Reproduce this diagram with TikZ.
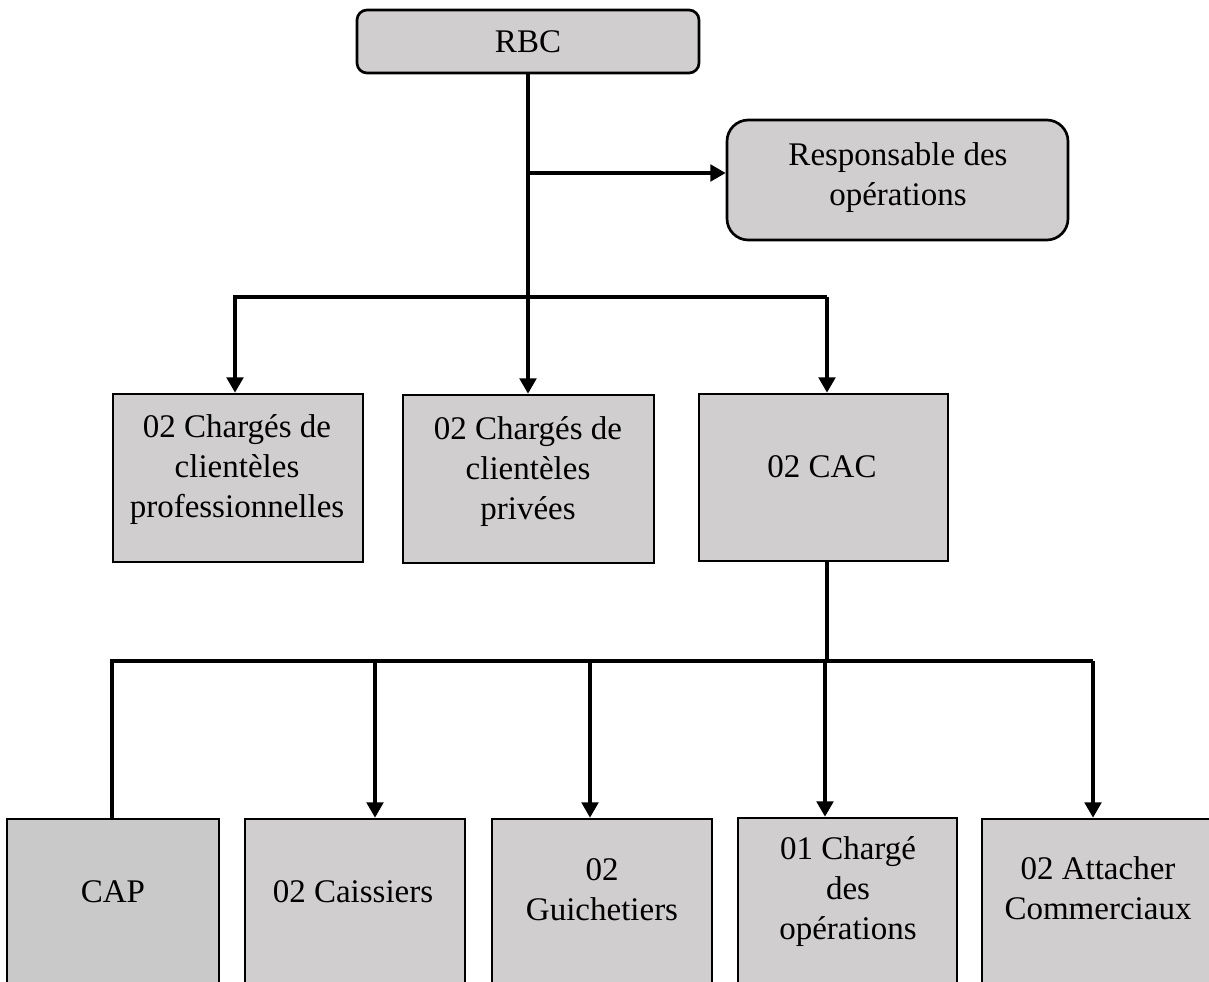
\documentclass[tikz,border=0pt]{standalone}
\usepackage{fontspec}
\setmainfont{Liberation Serif}
\usetikzlibrary{arrows.meta}
\definecolor{boxgray}{HTML}{D0CECE}
\definecolor{capgray}{HTML}{C9C9C9}
\tikzset{
  sz/.style 2 args={minimum width=#1*0.75pt, minimum height=#2*0.75pt},
  box/.style={draw=black, line width=2pt, fill=boxgray, inner sep=0pt, rectangle},
  rbox/.style={box, rounded corners=#1},
  txt/.style={anchor=base, inner sep=0pt, font=\fontsize{24.75}{30}\selectfont},
  conn/.style={line width=2.4pt, draw=black},
  arr/.style={conn, -{Triangle[width=12.5pt,length=11.5pt]}}
}
\newcommand{\ml}[1]{\begin{tabular}[t]{@{}c@{}}#1\end{tabular}}
\begin{document}
\begin{tikzpicture}[x=0.75pt,y=-0.75pt]
\useasboundingbox (0,0) rectangle (1209,981);
\clip (0,0) rectangle (1209,981);
% boxes
\node[rbox=7.5pt, sz={342}{63}] (rbc) at (528,41.5) {};
\node[rbox=16pt, sz={341}{120}] (resp) at (897.5,180) {};
\node[box, sz={250}{168}] (b1) at (238,478) {};
\node[box, sz={251}{168}] (b2) at (528.5,479) {};
\node[box, sz={249}{167}] (cac) at (823.5,477.5) {};
\node[box, fill=capgray, sz={212}{181}] (cap) at (113,909.5) {};
\node[box, sz={220}{183}] (cai) at (355,910.5) {};
\node[box, sz={220}{183}] (gui) at (602,910.5) {};
\node[box, sz={219}{184}] (cho) at (847.5,910) {};
\node[box, sz={290}{183}] (att) at (1127,910.5) {};
% texts
\node[txt] (trbc) at (528,53) {RBC};
\node[txt] (tresp) at (898,165) {\ml{Responsable des\\opérations}};
\node[txt] (tb1) at (237,437) {\ml{02 Chargés de\\clientèles\\professionnelles}};
\node[txt] (tb2) at (528,439) {\ml{02 Chargés de\\clientèles\\privées}};
\node[txt] (tcac) at (822,477) {02 CAC};
\node[txt] (tcap) at (113,902) {CAP};
\node[txt] (tcai) at (353,902) {02 Caissiers};
\node[txt] (tgui) at (602,880) {\ml{02\\Guichetiers}};
\node[txt] (tcho) at (848,859) {\ml{01 Chargé\\des\\opérations}};
\node[txt] (tatt) at (1098,879) {\ml{02 Attacher\\Commerciaux}};
% connectors level 1
\coordinate (r1) at (528,173);
\coordinate (hL) at (235,297);
\coordinate (hR) at (827,297);
\draw[arr] (rbc.south) -- (rbc.south |- b2.north);
\draw[arr] (r1) -- (r1 -| resp.west);
\draw[arr] (hR) -- (hL) -- (hL |- b1.north);
\draw[arr] (hR) -- (hR |- cac.north);
% connectors level 2
\coordinate (k) at (827,661);
\coordinate (kL) at (112,661);
\coordinate (kR) at (1093,661);
\coordinate (k2) at (375,661);
\coordinate (k3) at (590,661);
\coordinate (k4) at (825,661);
\draw[conn] (k |- cac.south) -- (k);
\draw[conn] (kR) -- (kL) -- (kL |- cap.north);
\draw[arr] (k2) -- (k2 |- cai.north);
\draw[arr] (k3) -- (k3 |- gui.north);
\draw[arr] (k4) -- (k4 |- cho.north);
\draw[arr] (kR) -- (kR |- att.north);
\end{tikzpicture}
\end{document}
